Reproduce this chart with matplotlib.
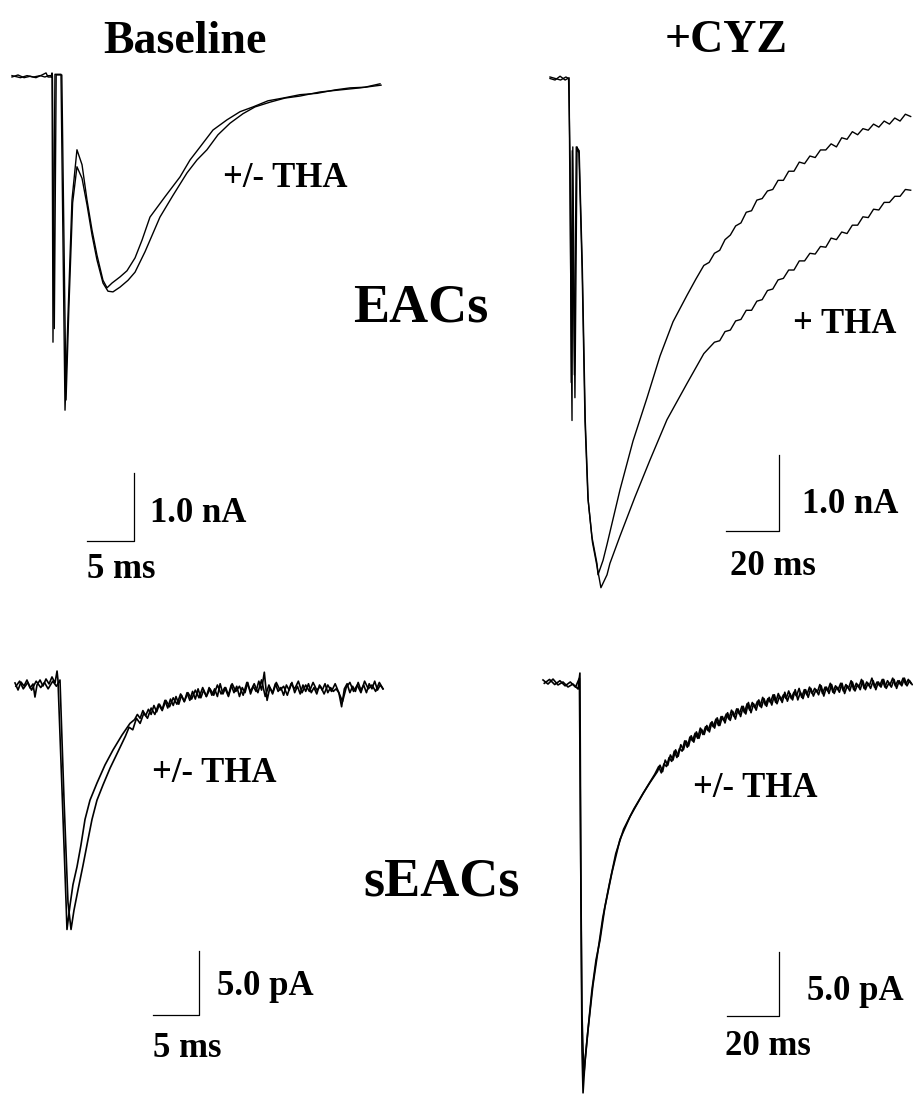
import matplotlib
matplotlib.use("Agg")
import matplotlib.pyplot as plt
import numpy as np

# ---- data: (time ms, current) ----
# EACs, baseline, control and +THA (nA)
eac_base_ctrl = [(0, 0), (0.64, 0.03), (1.28, -0.01), (1.91, 0.01), (2.55, -0.01), (3.19, 0.03),
                 (3.62, 0.06), (3.83, 0), (4.15, 0), (4.26, 0.06), (4.36, -3.90), (4.57, 0.04),
                 (5.21, 0.04), (5.64, -4.90), (5.96, -3.50), (6.38, -1.81), (6.91, -1.07),
                 (7.45, -1.29), (7.98, -1.81), (8.51, -2.25), (9.04, -2.62), (9.68, -2.99),
                 (10.11, -3.10), (10.64, -3.03), (11.49, -2.94), (12.23, -2.85), (13.09, -2.66),
                 (13.83, -2.40), (14.68, -2.06), (16.28, -1.76), (17.87, -1.47), (18.94, -1.22),
                 (20.0, -1.03), (21.38, -0.78), (22.87, -0.63), (24.26, -0.51), (25.64, -0.44),
                 (27.23, -0.35), (28.83, -0.31), (30.64, -0.26), (32.45, -0.24), (34.36, -0.19),
                 (35.96, -0.16), (37.55, -0.15), (39.15, -0.10)]
eac_base_tha = [(0, 0.02), (0.9, -0.01), (1.6, 0.02), (2.3, 0.0), (3.0, 0.02), (3.5, 0.0),
                (3.9, 0.02), (4.3, 0.02), (4.5, -3.70), (4.7, 0.03), (5.3, 0.03), (5.75, -4.75),
                (6.05, -3.40), (6.45, -1.85), (6.91, -1.32), (7.45, -1.49), (7.98, -1.88),
                (8.51, -2.32), (9.04, -2.69), (9.68, -3.03), (10.21, -3.15), (10.74, -3.16),
                (11.49, -3.09), (12.34, -2.99), (13.09, -2.87), (14.15, -2.57), (15.74, -2.06),
                (17.13, -1.74), (18.62, -1.41), (19.68, -1.22), (20.74, -1.07), (21.91, -0.85),
                (23.19, -0.68), (24.57, -0.54), (25.85, -0.44), (27.45, -0.37), (29.04, -0.31),
                (30.64, -0.28), (32.77, -0.22), (34.89, -0.19), (37.02, -0.16), (39.26, -0.12)]

# EACs, +CYZ, control and +THA (nA): stimulus/peak as (ms, nA), decay as samples
eac_cyz_ctrl = [(0, 0), (1.9, -0.02), (3.8, 0.03), (5.7, -0.02), (7.2, 0.01), (7.4, -1.0),
                (8.3, -4.5), (8.6, -0.9), (9.4, -4.2), (10.2, -0.9), (10.9, -0.98), (12.1, -2.49),
                (13.2, -4.51), (14.3, -5.52), (15.8, -6.03), (17.7, -6.38), (18.1, -6.53),
                (20.0, -6.34), (21.5, -6.13), (26.4, -5.41), (31.3, -4.77), (36.6, -4.20),
                (41.5, -3.65), (46.4, -3.20), (51.7, -2.85), (55.0, -2.64)]
eac_cyz_ctrl_tail_start, eac_cyz_ctrl_tail_dt = 58.0, 2.0
eac_cyz_ctrl_tail = [-2.46, -2.42, -2.30, -2.26, -2.12, -2.06, -1.94, -1.90, -1.76, -1.74, -1.60,
                     -1.58, -1.48, -1.46, -1.34, -1.34, -1.22, -1.22, -1.10, -1.12, -1.02, -1.04,
                     -0.94, -0.94, -0.86, -0.90, -0.78, -0.80, -0.70, -0.74, -0.66, -0.68, -0.60,
                     -0.64, -0.56, -0.60, -0.52, -0.56, -0.47, -0.50]
eac_cyz_tha = [(0, 0.02), (2.0, 0.0), (4.0, -0.02), (6.0, 0.02), (7.0, 0.0), (7.6, -1.1),
               (8.0, -4.0), (8.4, -0.95), (9.2, -3.9), (9.9, -0.9), (11.0, -0.95), (12.2, -2.5),
               (13.3, -4.5), (14.4, -5.55), (16.0, -6.1), (17.9, -6.45), (19.2, -6.70),
               (21.5, -6.53), (22.6, -6.38), (26.4, -6.02), (32.0, -5.51), (37.7, -5.02),
               (44.1, -4.49), (51.7, -4.01), (58.0, -3.62)]
eac_cyz_tha_tail_start, eac_cyz_tha_tail_dt = 62.0, 2.0
eac_cyz_tha_tail = [-3.47, -3.45, -3.33, -3.31, -3.19, -3.17, -3.05, -3.05, -2.93, -2.91, -2.79,
                    -2.77, -2.65, -2.63, -2.52, -2.52, -2.40, -2.40, -2.30, -2.31, -2.21, -2.22,
                    -2.10, -2.12, -2.02, -2.04, -1.93, -1.93, -1.82, -1.83, -1.72, -1.73, -1.63,
                    -1.63, -1.55, -1.55, -1.46, -1.47]

# sEACs, baseline (pA): onset/peak as (ms, pA), noisy tail as samples
seac_base_ctrl = [(0, 0.16), (0.33, -0.39), (0.65, 0.23), (0.98, -0.08), (1.30, 0.39), (1.63, -0.23),
                  (1.96, 0.08), (2.17, -0.94), (2.39, 0), (2.72, 0.39), (3.04, -0.08), (3.37, 0.47),
                  (3.70, 0.08), (4.02, 0.63), (4.35, 0.16), (4.57, 1.09), (4.67, 0.39), (5.11, -8.2),
                  (5.54, -16.8), (5.65, -19.1), (5.98, -17.2), (6.30, -15.6), (6.74, -14.2),
                  (7.17, -12.5), (7.61, -10.5), (8.15, -9.0), (8.91, -7.66), (9.78, -6.25),
                  (10.65, -5.08), (11.63, -3.91), (12.5, -3.0)]
seac_base_ctrl_tail_start, seac_base_ctrl_tail_dt = 13.0, 0.3
seac_base_ctrl_tail = [-2.7, -2.3, -2.6, -2.0, -2.4, -1.9, -2.3, -1.6, -2.1, -1.5, -1.9, -1.2, -1.8,
                       -1.1, -1.6, -0.9, -1.5, -0.8, -1.3, -0.6, -1.2, -0.5, -1.1, -0.3, -1.0, -0.4,
                       -0.9, -0.2, -0.8, -0.3, -0.9, 0.1, -0.7, -0.2, -0.8, 0.0, -0.6, -0.1, -0.9,
                       -0.2, -0.6, 0.2, -0.7, -0.1, -0.5, 0.3, -0.4, 1.0, -1.2, -0.2, -0.6, 0.1,
                       -0.5, -0.2, -0.8, 0.0, -0.4, 0.2, -0.6, -0.1, -0.7, 0.0, -0.5, 0.1, -0.6,
                       -0.2, -0.7, 0.0, -0.4, 0.1, -0.6, -0.2, -0.5, -0.3, -0.6, -1.7, -0.3, 0.1,
                       -0.6, -0.1, -0.5, 0.2, -0.4, 0.0, -0.6, 0.1, -0.3, 0.3, -0.4, 0.0, -0.3]
seac_base_tha = [(0.1, -0.1), (0.5, 0.3), (0.9, -0.3), (1.4, 0.2), (1.8, -0.4), (2.3, 0.3),
                 (2.8, -0.2), (3.2, 0.2), (3.6, -0.3), (4.1, 0.3), (4.5, -0.1), (4.89, 0.39),
                 (5.33, -9.0), (5.76, -17.0), (6.09, -19.1), (6.41, -17.6), (6.85, -16.0),
                 (7.39, -14.1), (7.93, -12.1), (8.37, -10.5), (8.91, -9.0), (9.57, -7.8),
                 (10.33, -6.5), (11.2, -5.2)]
seac_base_tha_tail_start, seac_base_tha_tail_dt = 12.0, 0.4
seac_base_tha_tail = [-4.0, -3.3, -3.5, -2.6, -3.0, -2.2, -2.6, -1.8, -2.3, -1.5, -2.0, -1.2, -1.7,
                      -1.0, -1.5, -0.7, -1.3, -0.6, -1.1, -0.4, -1.0, -0.2, -0.9, -0.3, -0.8, 0.0,
                      -0.7, -0.2, -0.9, 0.1, -0.5, -0.1, -0.8, 0.2, -0.5, 0.1, -0.6, 0.4, -0.9,
                      0.0, -0.7, 0.2, -0.4, -0.1, -0.8, 0.1, -0.3, 0.3, -0.6, 0.0, -0.5, 0.2,
                      -0.4, -0.1, -0.7, 0.0, -0.5, 0.1, -0.6, -1.3, -0.2, 0.2, -0.5, 0.0, -0.6,
                      0.3, -0.3, 0.0, -0.5, 0.2, -0.3]

# sEACs, +CYZ (pA)
seac_cyz_ctrl = [(0, 0.16), (1.92, -0.16), (3.85, 0.23), (5.77, -0.23), (7.69, 0.0), (9.62, -0.39),
                 (11.5, -0.16), (13.5, -0.55), (14.2, 0.7), (14.6, -17.0), (15.0, -28.8),
                 (15.4, -32.1), (16.2, -29.5), (16.9, -28.0), (18.8, -24.1), (20.4, -21.7),
                 (21.9, -20.2), (23.8, -17.6), (26.5, -14.9), (29.6, -12.3), (33.5, -10.5),
                 (38.5, -8.7), (41.0, -7.9), (43.0, -7.3)]
seac_cyz_ctrl_tail_start, seac_cyz_ctrl_tail_dt = 44.0, 1.0
seac_cyz_ctrl_tail = [-7.0, -6.5, -7.0, -6.1, -6.5, -5.7, -6.1, -5.3, -5.8, -4.9, -5.3, -4.6, -5.0,
                      -4.2, -4.7, -3.9, -4.4, -3.7, -4.1, -3.4, -3.9, -3.1, -3.6, -2.8, -3.4, -2.7,
                      -3.2, -2.4, -3.0, -2.3, -2.9, -2.1, -2.7, -1.9, -2.5, -1.6, -2.4, -1.7, -2.2,
                      -1.4, -2.0, -1.3, -1.9, -1.2, -1.8, -1.0, -1.7, -1.1, -1.6, -0.8, -1.5, -0.9,
                      -1.4, -0.6, -1.4, -0.8, -1.3, -0.6, -1.2, -0.5, -1.1, -0.6, -1.0, -0.3, -1.1,
                      -0.4, -0.9, -0.2, -0.9, -0.4, -0.8, -0.1, -0.9, -0.3, -0.7, 0.0, -0.7, -0.2,
                      -0.6, 0.1, -0.6, -0.1, -0.5, 0.1, -0.6, 0.0, -0.4, 0.2, -0.5, -0.1, -0.4,
                      0.2, -0.5, 0.1, -0.3, 0.3, -0.3, 0.1, -0.2]
seac_cyz_tha = [(0.5, -0.1), (2.5, 0.2), (4.5, -0.2), (6.5, 0.1), (8.5, -0.3), (10.5, 0.0),
                (12.5, -0.4), (14.0, 0.3), (14.5, -14.0), (15.0, -26.0), (15.7, -30.7),
                (17.3, -27.2), (19.2, -23.7), (21.0, -21.2), (23.0, -18.4), (25.5, -15.8),
                (28.0, -13.4), (31.0, -11.5), (35.0, -9.9), (40.0, -8.2), (43.0, -7.2)]
seac_cyz_tha_tail_start, seac_cyz_tha_tail_dt = 44.5, 1.0
seac_cyz_tha_tail = [-6.6, -7.1, -6.4, -6.6, -5.9, -6.2, -5.4, -5.9, -5.2, -5.4, -4.6, -5.1, -4.3,
                     -4.6, -4.0, -4.4, -3.6, -4.1, -3.5, -3.8, -3.2, -3.5, -2.9, -3.4, -2.7, -3.0,
                     -2.5, -2.9, -2.2, -2.7, -2.1, -2.5, -1.9, -2.4, -1.7, -2.2, -1.6, -2.0, -1.5,
                     -1.9, -1.2, -1.8, -1.3, -1.6, -1.0, -1.6, -0.9, -1.4, -1.0, -1.3, -0.7, -1.3,
                     -0.8, -1.1, -0.5, -1.2, -0.6, -1.0, -0.4, -0.9, -0.5, -0.8, -0.2, -0.9, -0.4,
                     -0.7, -0.1, -0.8, -0.3, -0.6, -0.1, -0.7, -0.2, -0.5, 0.1, -0.6, -0.1, -0.4,
                     0.2, -0.5, 0.0, -0.3, 0.3, -0.4, 0.0, -0.3, 0.2, -0.4, 0.1, -0.2, 0.3, -0.3,
                     0.1, -0.2, 0.3, -0.2, 0.2, -0.1]

# scale bars (time ms, current, label strings)
bar_time = [5, 20, 5, 20]
bar_amp = [1.0, 1.0, 5.0, 5.0]
bar_time_labels = ["5 ms", "20 ms", "5 ms", "20 ms"]
bar_amp_labels = ["1.0 nA", "1.0 nA", "5.0 pA", "5.0 pA"]

W, H = 913, 1098
FONT = "Liberation Serif"

fig = plt.figure(figsize=(W / 100, H / 100), dpi=100)
fig.patch.set_facecolor("white")


def panel(x0, y0, kx, ky):
    # an axes over the whole figure, scaled so trace t=0/I=0 sits at pixel (x0, y0)
    ax = fig.add_axes([0, 0, 1, 1])
    ax.set_xlim(-x0 / kx, (W - x0) / kx)
    ax.set_ylim(-(H - y0) / ky, y0 / ky)
    ax.axis("off")
    ax.patch.set_alpha(0)
    return ax, (x0, y0, kx, ky)


def with_tail(pts, start=None, dt=None, tail=()):
    t = [p[0] for p in pts] + [start + dt * k for k in range(len(tail))]
    v = [p[1] for p in pts] + list(tail)
    return [t, v]


def draw_trace(ax, tv, lw=1.0):
    ax.plot(tv[0], tv[1], color="black", lw=lw, solid_joinstyle="round")


def scale_bar(ax, m, corner, dt, di):
    x0, y0, kx, ky = m
    tc = (corner[0] - x0) / kx
    ic = -(corner[1] - y0) / ky
    ax.plot([tc - dt, tc, tc], [ic, ic, ic + di], color="black", lw=0.9)


def txt(x, y, s, size):
    fig.text(x / W, 1 - y / H, s, fontsize=size, fontweight="bold", family=FONT,
             ha="left", va="baseline")


axA, mA = panel(12, 77, 9.4, 68)
axB, mB = panel(550, 78.5, 2.652, 76)
axC, mC = panel(15, 685, 9.2, 12.8)
axD, mD = panel(543, 682, 2.6, 12.8)

draw_trace(axA, with_tail(eac_base_ctrl))
draw_trace(axA, with_tail(eac_base_tha))
draw_trace(axB, with_tail(eac_cyz_ctrl, eac_cyz_ctrl_tail_start, eac_cyz_ctrl_tail_dt,
                          eac_cyz_ctrl_tail))
draw_trace(axB, with_tail(eac_cyz_tha, eac_cyz_tha_tail_start, eac_cyz_tha_tail_dt,
                          eac_cyz_tha_tail))
draw_trace(axC, with_tail(seac_base_ctrl, seac_base_ctrl_tail_start, seac_base_ctrl_tail_dt,
                          seac_base_ctrl_tail), 1.2)
draw_trace(axC, with_tail(seac_base_tha, seac_base_tha_tail_start, seac_base_tha_tail_dt,
                          seac_base_tha_tail), 1.2)
draw_trace(axD, with_tail(seac_cyz_ctrl, seac_cyz_ctrl_tail_start, seac_cyz_ctrl_tail_dt,
                          seac_cyz_ctrl_tail), 1.2)
draw_trace(axD, with_tail(seac_cyz_tha, seac_cyz_tha_tail_start, seac_cyz_tha_tail_dt,
                          seac_cyz_tha_tail), 1.2)

corners = [(134, 541), (779, 531), (199, 1015), (779, 1016)]
for ax, m, c, dt, di in zip([axA, axB, axC, axD], [mA, mB, mC, mD], corners, bar_time, bar_amp):
    scale_bar(ax, m, c, dt, di)

# titles and labels
txt(103, 53, "Baseline", 33)
txt(665, 52, "+CYZ", 33)
txt(353, 321, "EACs", 39)
txt(363, 896, "sEACs", 39)
txt(223, 187, "+/- THA", 25)
txt(793, 333, "+ THA", 25)
txt(152, 782, "+/- THA", 25)
txt(693, 797, "+/- THA", 25)

amp_pos = [(150, 522), (802, 513), (217, 995), (807, 1000)]
time_pos = [(87, 578), (730, 575), (153, 1057), (725, 1055)]
for (x, y), s in zip(amp_pos, bar_amp_labels):
    txt(x, y, s, 25)
for (x, y), s in zip(time_pos, bar_time_labels):
    txt(x, y, s, 25)

fig.savefig("out.png", dpi=100, facecolor="white")
